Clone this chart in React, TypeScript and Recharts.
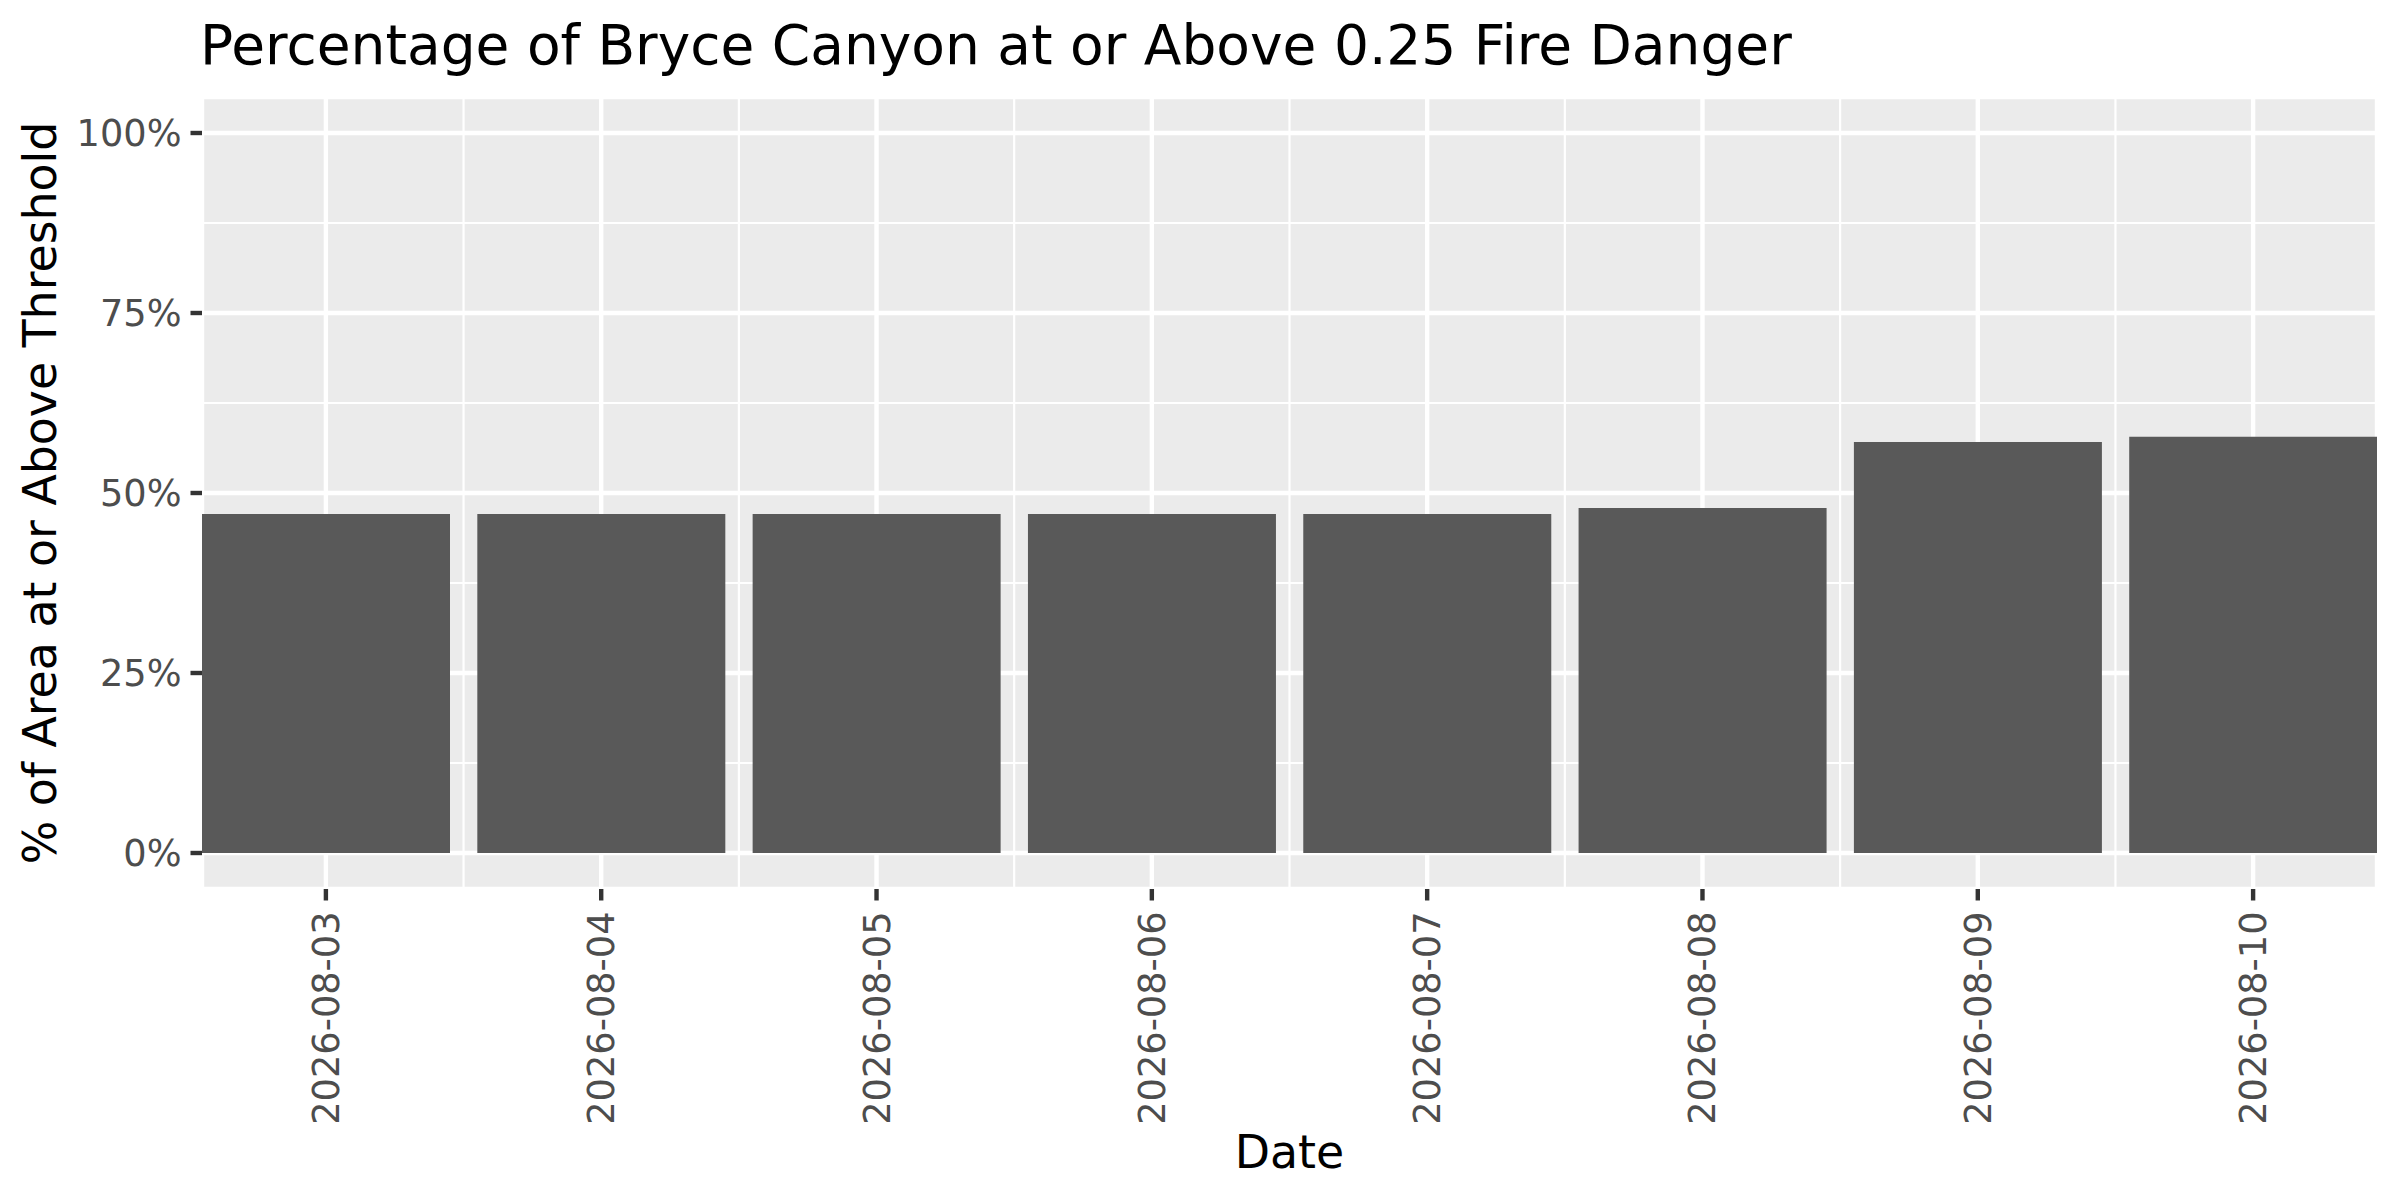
import React from 'react';
import { BarChart, Bar, XAxis, YAxis, CartesianGrid } from 'recharts';

const titleText = 'Percentage of Bryce Canyon at or Above 0.25 Fire Danger';
const xTitle = 'Date';
const yTitle = '% of Area at or Above Threshold';

const dates = [
  '2026-08-03',
  '2026-08-04',
  '2026-08-05',
  '2026-08-06',
  '2026-08-07',
  '2026-08-08',
  '2026-08-09',
  '2026-08-10',
];
const pctValues = [47.1, 47.1, 47.1, 47.1, 47.1, 47.9, 57.1, 57.8];
const yTicks = [0, 25, 50, 75, 100];
const yMinorTicks = [12.5, 37.5, 62.5, 87.5];

const data = dates.map((d, i) => ({ idx: i, date: d, pct: pctValues[i] }));
const xTicks = dates.map((_, i) => i);
const xMinorTicks = dates.slice(1).map((_, i) => i + 0.5);

const FONT = 'DejaVu Sans';
const TICK_FS = 36.7;
const TITLE_FS = 55;
const AXIS_TITLE_FS = 45.8;

const XTick = (props: any) => {
  const { x, y, payload } = props;
  return (
    <text
      x={x}
      y={y}
      transform={`rotate(-90, ${x}, ${y})`}
      textAnchor="end"
      dy="0.355em"
      fontSize={TICK_FS}
      fill="#4D4D4D"
      fontFamily={FONT}
    >
      {dates[payload.value]}
    </text>
  );
};

const YTitle = (props: any) => {
  const vb = props.viewBox || { x: 0, y: 97, width: 202, height: 792 };
  const x = vb.x + 56;
  const y = vb.y + vb.height / 2;
  return (
    <text
      x={x}
      y={y}
      transform={`rotate(-90, ${x}, ${y})`}
      textAnchor="middle"
      fontSize={AXIS_TITLE_FS}
      fill="#000000"
      fontFamily={FONT}
    >
      {yTitle}
    </text>
  );
};

const XTitle = (props: any) => {
  const vb = props.viewBox || { x: 202, y: 889, width: 2175, height: 311 };
  const x = vb.x + vb.width / 2;
  const y = vb.y + vb.height - 32;
  return (
    <text x={x} y={y} textAnchor="middle" fontSize={AXIS_TITLE_FS} fill="#000000" fontFamily={FONT}>
      {xTitle}
    </text>
  );
};

export default function App() {
  return (
    <div style={{ position: 'absolute', left: 0, top: 0, width: 2400, height: 1200, background: '#FFFFFF' }}>
      <svg width={2400} height={100} style={{ position: 'absolute', left: 0, top: 0 }}>
        <text x={200} y={63.5} fontSize={TITLE_FS} fontFamily={FONT} fill="#000000">
          {titleText}
        </text>
      </svg>
      <div style={{ position: 'absolute', left: 0, top: 0 }}>
        <BarChart
          width={2400}
          height={1200}
          data={data}
          margin={{ top: 97, right: 23, bottom: 0, left: 0 }}
          barCategoryGap="5%"
          style={{ fontFamily: FONT }}
        >
          <CartesianGrid
            fill="#EBEBEB"
            fillOpacity={1}
            stroke="#FFFFFF"
            strokeWidth={2.2}
            horizontalValues={yMinorTicks}
            verticalValues={xMinorTicks}
          />
          <CartesianGrid stroke="#FFFFFF" strokeWidth={4.4} fill="none" />
          <XAxis
            type="number"
            dataKey="idx"
            domain={[-0.45, dates.length - 0.55]}
            ticks={xTicks}
            interval={0}
            allowDataOverflow
            axisLine={false}
            tickLine={{ stroke: '#333333', strokeWidth: 4.4 }}
            tickSize={11.5}
            tickMargin={11}
            tick={<XTick />}
            height={311}
            label={{ content: <XTitle /> }}
          />
          <YAxis
            type="number"
            domain={[-5, 105]}
            ticks={yTicks}
            interval={0}
            allowDataOverflow
            axisLine={false}
            tickLine={{ stroke: '#333333', strokeWidth: 4.4 }}
            tickSize={11.5}
            tickMargin={9}
            tickFormatter={(v: number) => `${v}%`}
            tick={{ fontSize: TICK_FS, fill: '#4D4D4D', fontFamily: FONT }}
            width={202}
            label={{ content: <YTitle /> }}
          />
          <Bar dataKey="pct" fill="#595959" isAnimationActive={false} />
        </BarChart>
      </div>
    </div>
  );
}
